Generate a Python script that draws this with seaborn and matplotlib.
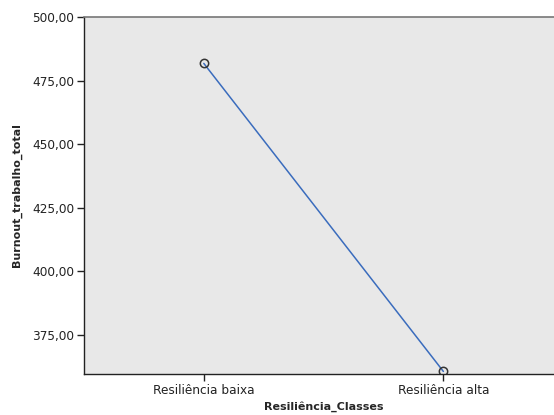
import pandas as pd
import seaborn as sns
import matplotlib
matplotlib.use("Agg")
import matplotlib.pyplot as plt
from matplotlib.ticker import FuncFormatter

classes = ["Resiliência baixa", "Resiliência alta"]
burnout = [481.8, 360.7]

df = pd.DataFrame({"Resiliência_Classes": classes, "Burnout_trabalho_total": burnout})

sns.set_style("white")
plt.rcParams["font.family"] = ["DejaVu Sans"]

fig = plt.figure(figsize=(5.54, 4.15), dpi=100)
ax = fig.add_axes([0.1516, 0.0988, 0.865, 0.86])
ax.set_facecolor("#e8e8e8")

sns.lineplot(data=df, x="Resiliência_Classes", y="Burnout_trabalho_total", ax=ax,
             color="#3a6cbd", linewidth=1.1, marker="o", markersize=6,
             markerfacecolor="none", markeredgecolor="#333333", markeredgewidth=1.1,
             sort=False)

ax.set_xlim(-0.5, 1.5)
ax.set_ylim(359.7, 500)
ax.set_yticks([375, 400, 425, 450, 475, 500])
ax.yaxis.set_major_formatter(FuncFormatter(lambda v, p: f"{v:.2f}".replace(".", ",")))

for s in ["left", "bottom"]:
    ax.spines[s].set_color("#222222")
    ax.spines[s].set_linewidth(1.0)
ax.spines["top"].set_color("#777777")
ax.spines["top"].set_linewidth(1.2)
ax.spines["right"].set_visible(False)

ax.tick_params(axis="both", direction="out", length=5, width=1, color="#222222",
               labelsize=8.7, labelcolor="#222222", pad=2, left=True, bottom=True)

ax.set_xlabel("Resiliência_Classes", fontsize=8, fontweight="bold", labelpad=3)
ax.set_ylabel("Burnout_trabalho_total", fontsize=8, fontweight="bold", labelpad=7)

fig.savefig("out.png", dpi=100)
